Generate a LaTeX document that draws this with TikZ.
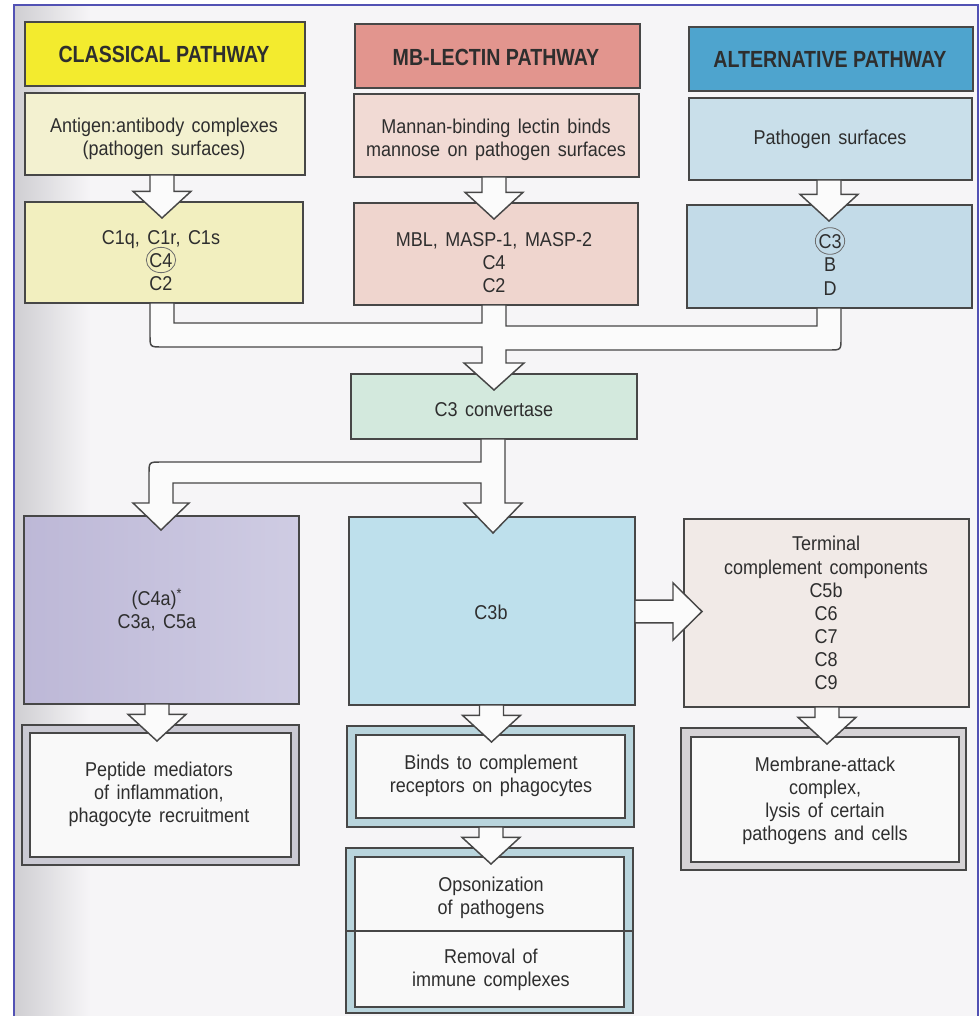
\documentclass[tikz,border=0pt]{standalone}
\usepackage{fontspec}
\setmainfont[FakeStretch=0.9,WordSpace=1.5]{Liberation Sans}
\newfontfamily\hdfont[FakeStretch=0.84]{Liberation Sans}
\usetikzlibrary{calc}
\definecolor{paper}{HTML}{F6F5F7}
\definecolor{paperdk}{HTML}{CFCED2}
\definecolor{framec}{HTML}{5252B4}
\definecolor{edge}{HTML}{474747}
\definecolor{txtc}{HTML}{2E2E2E}
\definecolor{hyel}{HTML}{F3EB2E}
\definecolor{hred}{HTML}{E2958E}
\definecolor{hblu}{HTML}{4EA4CE}
\definecolor{yel1}{HTML}{F3F1D0}
\definecolor{yel2}{HTML}{F2EFBF}
\definecolor{red1}{HTML}{F1DAD4}
\definecolor{red2}{HTML}{EFD5CE}
\definecolor{blu1}{HTML}{C9DFEA}
\definecolor{blu2}{HTML}{C3DBE8}
\definecolor{grn}{HTML}{D3E9DD}
\definecolor{lav1}{HTML}{BDB8D7}
\definecolor{lav2}{HTML}{CFCCE3}
\definecolor{cthreeb}{HTML}{BEE0EC}
\definecolor{term}{HTML}{F1EAE7}
\definecolor{bandb}{HTML}{B9D5DD}
\definecolor{bandg}{HTML}{CAC9D3}
\definecolor{bandt}{HTML}{D6D3D6}
\definecolor{innr}{HTML}{F9F9F9}
\definecolor{arrf}{HTML}{FBFBFB}
\tikzset{
 txt/.style={text=txtc, align=center, inner sep=0pt, font=\fontsize{15}{17.3}\selectfont},
 hdtxt/.style={text=txtc, inner sep=0pt, font=\hdfont\bfseries\fontsize{17.5}{19}\selectfont},
 blk/.style={draw=edge, fill=arrf, line width=1.1pt, line join=miter},
 bx/.style={draw=edge, line width=1.1pt, outer sep=0pt, inner sep=0pt},
 ring/.style={draw=edge!80, line width=0.6pt},
 framel/.style={draw=framec, line width=1.5pt},
}
\newcommand{\mkbox}[6]{\node[bx,#6,minimum width={(#4-#2)*0.75pt},minimum height={(#5-#3)*0.75pt}] (#1) at ({(#2+#4)/2},{(#3+#5)/2}) {};}
\newcommand{\blockdown}[3]{%
 \filldraw[blk] let \p1=(#1.south), \p2=(#2.north), \p3=(#3,0) in
 (\x3-9pt,\y1) -- (\x3-9pt,\y2+8pt) -- (\x3-21.75pt,\y2+8pt) -- (\x3,\y2-12pt)
 -- (\x3+21.75pt,\y2+8pt) -- (\x3+9pt,\y2+8pt) -- (\x3+9pt,\y1) -- cycle;}
\begin{document}
\begin{tikzpicture}[x=0.75pt,y=-0.75pt]
\useasboundingbox (0,0) rectangle (979,1016);
% page
\fill[white] (0,0) rectangle (979,1016);
\fill[paper] (14,5) rectangle (978,1016);
\shade[left color=paperdk, right color=paper] (14,5) rectangle (90,1016);
\draw[framel] (14,1020) -- (14,5) -- (978,5) -- (978,1020);

% headers
\mkbox{hA}{25}{22}{305}{86}{fill=hyel}
\mkbox{hB}{355}{24}{640}{88}{fill=hred}
\mkbox{hC}{689}{27}{973}{91}{fill=hblu}
% entry boxes
\mkbox{eA}{25}{93}{305}{175}{fill=yel1}
\mkbox{eB}{354}{94}{639}{177}{fill=red1}
\mkbox{eC}{689}{98}{972}{180}{fill=blu1}
% component boxes
\mkbox{cA}{25}{202}{303}{303}{fill=yel2}
\mkbox{cB}{354}{203}{638}{305}{fill=red2}
\mkbox{cC}{687}{205}{972}{308}{fill=blu2}
% C3 convertase
\mkbox{conv}{351}{374}{637}{439}{fill=grn}
% middle row
\mkbox{mA}{24}{516}{299}{704}{left color=lav1,right color=lav2}
\mkbox{mB}{349}{517}{635}{705}{fill=cthreeb}
\mkbox{mC}{684}{519}{969}{707}{fill=term}
% bottom row (double frames)
\mkbox{pO}{22}{725}{299}{865}{fill=bandg}
\mkbox{pI}{30}{733}{291}{857}{fill=innr}
\mkbox{bO}{347}{726}{634}{827}{fill=bandb}
\mkbox{bI}{356}{735}{625}{818}{fill=innr}
\mkbox{oO}{346}{848}{633}{1013}{fill=bandb}
\mkbox{oI}{355}{857}{624}{1007}{fill=innr}
\mkbox{tO}{681}{728}{966}{870}{fill=bandt}
\mkbox{tI}{691}{737}{959}{862}{fill=innr}
\draw[edge, line width=1.1pt] (oO.west |- 0,931) -- (oO.east |- 0,931);

% straight block arrows
\blockdown{eA}{cA}{162}
\blockdown{eB}{cB}{494}
\blockdown{eC}{cC}{829}
\blockdown{mA}{pO}{157}
\blockdown{mB}{bO}{491.5}
\blockdown{bO}{oO}{491}
\blockdown{mC}{tO}{827}

% merging arrow into C3 convertase
\filldraw[blk] let \p1=(cA.south), \p2=(cB.south), \p3=(cC.south), \p4=(conv.north),
  \p5=(162,0), \p6=(494,0), \p7=(829,0) in
 (\x5+9pt,\y1) -- (\x5+9pt,\y1-15pt) -- (\x6-9pt,\y1-15pt) -- (\x6-9pt,\y2)
 -- (\x6+9pt,\y2) -- (\x6+9pt,\y2-15.75pt) -- (\x7-9pt,\y2-15.75pt) -- (\x7-9pt,\y3)
 -- (\x7+9pt,\y3) -- (\x7+9pt,\y4+27pt) .. controls (\x7+9pt,\y4+18pt) .. (\x7,\y4+18pt)
 -- (\x6+9pt,\y4+18pt) -- (\x6+9pt,\y4+8.25pt) -- (\x6+22.5pt,\y4+8.25pt) -- (\x6,\y4-12pt)
 -- (\x6-22.5pt,\y4+8.25pt) -- (\x6-9pt,\y4+8.25pt) -- (\x6-9pt,\y4+20.25pt)
 -- (\x5,\y4+20.25pt) .. controls (\x5-9pt,\y4+20.25pt) .. (\x5-9pt,\y4+29.25pt)
 -- (\x5-9pt,\y1) -- cycle;

% splitting arrow from C3 convertase
\filldraw[blk] let \p1=(conv.south), \p2=(mA.north), \p3=(mB.north),
  \p5=(161,0), \p6=(493,0) in
 (\x6+9pt,\y1) -- (\x6+9pt,\y3+10.5pt) -- (\x6+21.75pt,\y3+10.5pt) -- (\x6,\y3-12pt)
 -- (\x6-21.75pt,\y3+10.5pt) -- (\x6-9pt,\y3+10.5pt) -- (\x6-9pt,\y1-33pt)
 -- (\x5+9pt,\y1-33pt) -- (\x5+9pt,\y2+9.75pt) -- (\x5+21pt,\y2+9.75pt) -- (\x5,\y2-10.5pt)
 -- (\x5-21pt,\y2+9.75pt) -- (\x5-9pt,\y2+9.75pt) -- (\x5-9pt,\y1-26.25pt)
 .. controls (\x5-9pt,\y1-17.25pt) .. (\x5,\y1-17.25pt)
 -- (\x6-9pt,\y1-17.25pt) -- (\x6-9pt,\y1) -- cycle;

% C3b -> terminal components
\filldraw[blk] let \p1=(mB.east), \p2=(mC.west), \p3=(0,611.5) in
 (\x1,\y3+8.6pt) -- (\x2-8.25pt,\y3+8.6pt) -- (\x2-8.25pt,\y3+21.4pt) -- (\x2+13.5pt,\y3)
 -- (\x2-8.25pt,\y3-21.4pt) -- (\x2-8.25pt,\y3-8.6pt) -- (\x1,\y3-8.6pt) -- cycle;

% rings
\draw[ring] (161,260) ellipse [x radius=11pt, y radius=9.5pt];
\draw[ring] (830,241) ellipse [x radius=11pt, y radius=10pt];

% texts
\node[hdtxt] (thA) at (164,54) {CLASSICAL PATHWAY};
\node[hdtxt] (thB) at (496,57) {MB-LECTIN PATHWAY};
\node[hdtxt] (thC) at (830,59) {ALTERNATIVE PATHWAY};
\node[txt] (teA) at (164,139) {Antigen:antibody complexes\\(pathogen surfaces)};
\node[txt] (teB) at (496,140) {Mannan-binding lectin binds\\mannose on pathogen surfaces};
\node[txt] (teC) at (830,139) {Pathogen surfaces};
\node[txt] (tcA) at (161,261) {C1q, C1r, C1s\\C4\\C2};
\node[txt] (tcB) at (494,263) {MBL, MASP-1, MASP-2\\C4\\C2};
\node[txt] (tcC) at (830,265) {C3\\B\\D};
\node[txt] (tconv) at (494,410) {C3 convertase};
\node[txt] (tmA) at (157,610) {(C4a)\textsuperscript{*}\\C3a,\ C5a};
\node[txt] (tmB) at (491,612) {C3b};
\node[txt] (tmC) at (826,613) {Terminal\\complement components\\C5b\\C6\\C7\\C8\\C9};
\node[txt] (tpI) at (159,794) {Peptide mediators\\of inflammation,\\phagocyte recruitment};
\node[txt] (tbI) at (491,776) {Binds to complement\\receptors on phagocytes};
\node[txt] (toI1) at (491,898) {Opsonization\\of pathogens};
\node[txt] (toI2) at (491,970) {Removal of\\immune complexes};
\node[txt] (ttI) at (825,801) {Membrane-attack\\complex,\\lysis of certain\\pathogens and cells};
\end{tikzpicture}
\end{document}
